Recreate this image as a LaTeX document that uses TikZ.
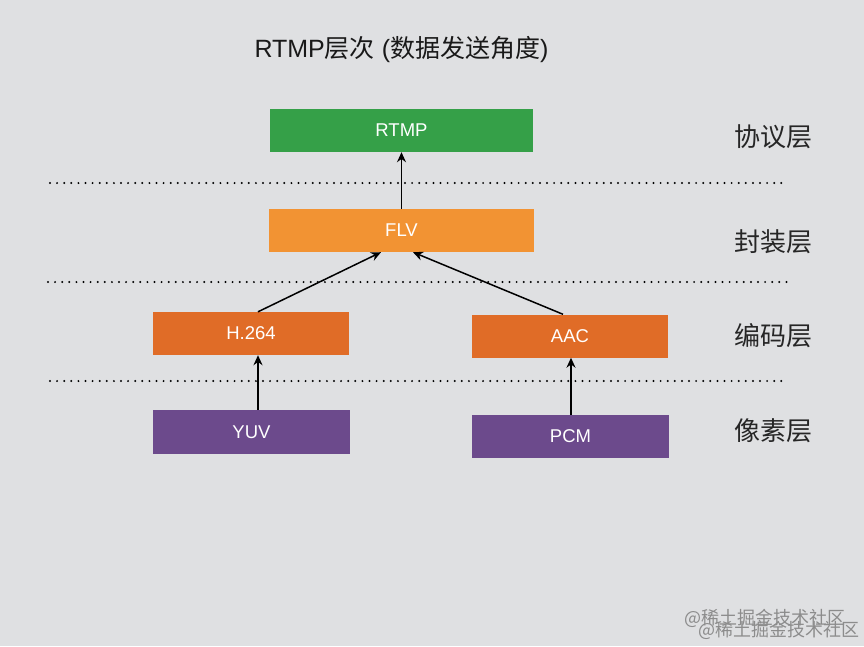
\documentclass[tikz,border=0pt]{standalone}
\usepackage{fontspec}
\setmainfont{Liberation Sans}
\newfontfamily\cjk{Noto Sans CJK SC}
\usetikzlibrary{arrows.meta}
\definecolor{bgc}{RGB}{223,224,226}
\definecolor{protoc}{RGB}{53,160,72}
\definecolor{packc}{RGB}{242,147,51}
\definecolor{codec}{RGB}{224,108,39}
\definecolor{pixc}{RGB}{108,74,140}
\begin{document}
\begin{tikzpicture}[x=1pt,y=-1pt,
  layerbox/.style={draw=none, minimum height=43pt, inner sep=0pt, text=white, font=\fontsize{18.5}{22}\selectfont},
  conn/.style={line width=1.5pt, -{Stealth[length=10pt,width=9pt]}},
  sep/.style={line width=2.2pt, line cap=round, dash pattern=on 0pt off 7.1pt},
  layerlabel/.style={font=\cjk\fontsize{26}{30}\selectfont, text=black!85},
  wm/.style={font=\cjk\fontsize{18}{21}\selectfont, text=black!45}]
\useasboundingbox (0,0) rectangle (864,646);
\fill[bgc] (0,0) rectangle (864,646);
\node[font=\fontsize{25}{30}\selectfont, text=black!90] (title) at (401.5,50) {RTMP{\cjk 层次} ({\cjk 数据发送角度})};
\node[layerbox, fill=protoc, minimum width=263pt] (rtmp) at (401.5,130.5) {RTMP};
\node[layerbox, fill=packc, minimum width=265pt] (flv) at (401.5,230.5) {FLV};
\node[layerbox, fill=codec, minimum width=196pt] (h264) at (251,333.5) {H.264};
\node[layerbox, fill=codec, minimum width=196pt] (aac) at (570,336) {AAC};
\node[layerbox, fill=pixc, minimum width=197pt, minimum height=44pt] (yuv) at (251.5,432) {YUV};
\node[layerbox, fill=pixc, minimum width=197pt, minimum height=43pt] (pcm) at (570.5,436.5) {PCM};
\coordinate (d1a) at (50,183); \coordinate (d1b) at (787,183);
\coordinate (d2a) at (48,282); \coordinate (d2b) at (787,282);
\coordinate (d3a) at (50,381); \coordinate (d3b) at (787,381);
\draw[sep] (d1a) -- (d1b);
\draw[sep] (d2a) -- (d2b);
\draw[sep] (d3a) -- (d3b);
\draw[conn] (flv.north) -- (rtmp.south);
\draw[conn] (h264.north -| 258,0) -- (flv.south -| 381,0);
\draw[conn] (aac.north -| 563,0) -- (flv.south -| 413,0);
\draw[conn] (yuv.north -| 258,0) -- (h264.south -| 258,0);
\draw[conn] (pcm.north -| 571,0) -- (aac.south -| 571,0);
\node[layerlabel] (l1) at (773,137) {协议层};
\node[layerlabel] (l2) at (773,242) {封装层};
\node[layerlabel] (l3) at (773,336) {编码层};
\node[layerlabel] (l4) at (773,431) {像素层};
\node[wm] (wm1) at (765,618) {@稀土掘金技术社区};
\node[wm] (wm2) at (779,630) {@稀土掘金技术社区};
\end{tikzpicture}
\end{document}
